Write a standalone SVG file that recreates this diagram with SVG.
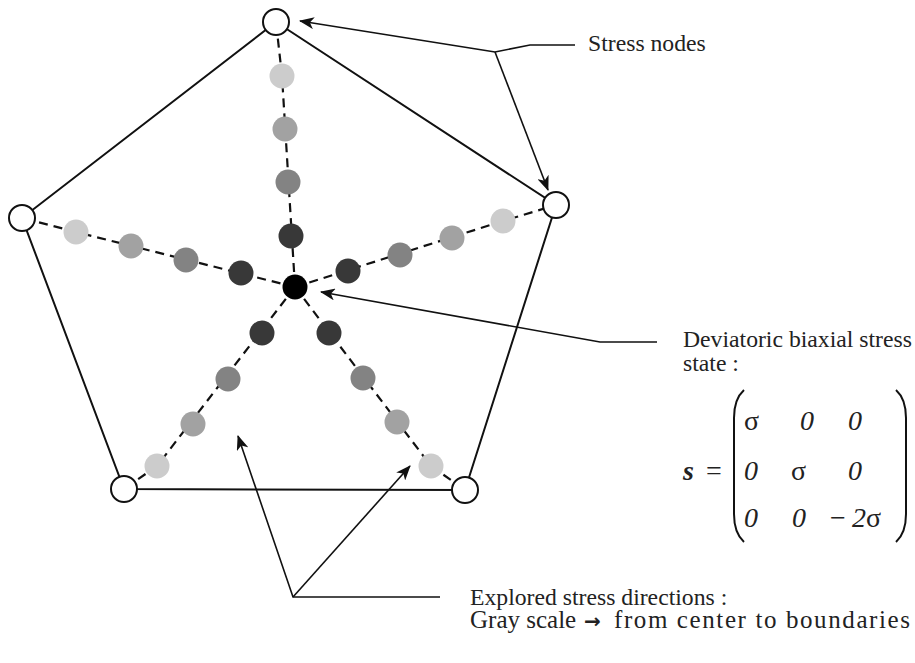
<svg xmlns="http://www.w3.org/2000/svg" width="915" height="663" viewBox="0 0 915 663">
<style>
.edge{stroke:#111;stroke-width:2;fill:none}
.arm{stroke:#111;stroke-width:2.2;stroke-dasharray:9 6;fill:none}
.node{fill:#fff;stroke:#111;stroke-width:2}
.lead{stroke:#111;stroke-width:1.6;fill:none}
.t{font-family:"Liberation Serif","Times New Roman",serif;font-size:23.7px;fill:#222}
.m{font-family:"Liberation Serif","Times New Roman",serif;font-size:28px;fill:#222}
.k1{fill:#383838}.k2{fill:#838383}.k3{fill:#a2a2a2}.k4{fill:#cccccc}
</style>
<defs>
<marker id="ah" markerUnits="userSpaceOnUse" markerWidth="16" markerHeight="12" refX="14" refY="6" orient="auto">
<path d="M0,0 L15,6 L0,12 L4,6 Z" fill="#111"/>
</marker>
</defs>
<rect width="915" height="663" fill="#fff"/>
<g id="pentagon">
<polygon class="edge" points="276,22 556,205 465,490 124,489 22,218"/>
</g>
<g id="arms">
<polyline class="arm" points="295,287 282,76 276,22"/>
<polyline class="arm" points="295,287 503,221 556,205"/>
<polyline class="arm" points="295,287 431,466 465,490"/>
<polyline class="arm" points="295,287 157,466 124,489"/>
<polyline class="arm" points="295,287 76,232 22,218"/>
</g>
<g id="dots">
<circle cx="295" cy="287" r="12.5" fill="#000"/>
<circle class="k1" cx="291" cy="236" r="12.5"/>
<circle class="k2" cx="288" cy="182" r="12.5"/>
<circle class="k3" cx="285" cy="129" r="12.5"/>
<circle class="k4" cx="282" cy="76" r="12.5"/>
<circle class="k1" cx="348" cy="271" r="12.5"/>
<circle class="k2" cx="400" cy="255" r="12.5"/>
<circle class="k3" cx="452" cy="238" r="12.5"/>
<circle class="k4" cx="503" cy="221" r="12.5"/>
<circle class="k1" cx="329" cy="333" r="12.5"/>
<circle class="k2" cx="363" cy="378" r="12.5"/>
<circle class="k3" cx="397" cy="422" r="12.5"/>
<circle class="k4" cx="431" cy="466" r="12.5"/>
<circle class="k1" cx="262" cy="333" r="12.5"/>
<circle class="k2" cx="228" cy="379" r="12.5"/>
<circle class="k3" cx="193" cy="424" r="12.5"/>
<circle class="k4" cx="157" cy="466" r="12.5"/>
<circle class="k1" cx="241" cy="273" r="12.5"/>
<circle class="k2" cx="186" cy="260" r="12.5"/>
<circle class="k3" cx="131" cy="246" r="12.5"/>
<circle class="k4" cx="76" cy="232" r="12.5"/>
</g>
<g id="node-top"><circle class="node" cx="276" cy="22" r="13"/></g>
<g id="node-right"><circle class="node" cx="556" cy="205" r="13"/></g>
<g id="node-bottom-right"><circle class="node" cx="465" cy="490" r="13"/></g>
<g id="node-bottom-left"><circle class="node" cx="124" cy="489" r="13"/></g>
<g id="node-left"><circle class="node" cx="22" cy="218" r="13"/></g>
<g id="connectors">
<polyline class="lead" points="575,45 530,45 495,52 300,21" marker-end="url(#ah)"/>
<line class="lead" x1="495" y1="52" x2="548" y2="190" marker-end="url(#ah)"/>
<polyline class="lead" points="657,342 600,342 321,292" marker-end="url(#ah)"/>
<polyline class="lead" points="440,597 293,597 238,436" marker-end="url(#ah)"/>
<line class="lead" x1="293" y1="597" x2="410" y2="466" marker-end="url(#ah)"/>
</g>
<g id="label-stress-nodes">
<text class="t" x="588" y="51">Stress nodes</text>
</g>
<g id="label-deviatoric">
<text class="t" x="683" y="347">Deviatoric biaxial stress</text>
<text class="t" x="683" y="371">state :</text>
<text class="m" x="683" y="480" font-weight="bold" font-style="italic">s</text>
<text class="m" x="706" y="480">=</text>
<path class="edge" stroke-width="1.8" d="M744,390 Q734,399 734,418 L734,514 Q734,533 744,542"/>
<path class="edge" stroke-width="1.8" d="M896,390 Q906,399 906,418 L906,514 Q906,533 896,542"/>
<text class="m" x="744" y="430">σ</text>
<text class="m" x="800" y="430" font-style="italic">0</text>
<text class="m" x="848" y="430" font-style="italic">0</text>
<text class="m" x="744" y="480" font-style="italic">0</text>
<text class="m" x="791" y="480">σ</text>
<text class="m" x="848" y="480" font-style="italic">0</text>
<text class="m" x="744" y="527" font-style="italic">0</text>
<text class="m" x="792" y="527" font-style="italic">0</text>
<text class="m" x="830" y="527">−</text>
<text class="m" x="852" y="527" font-style="italic">2</text>
<text class="m" x="866" y="527">σ</text>
</g>
<g id="label-explored">
<text class="t" x="470" y="605">Explored stress directions :</text>
<text class="t" y="628" style="font-size:25px"><tspan x="470">Gray scale</tspan><tspan x="584" style="font-family:'DejaVu Sans',sans-serif;font-size:20px;font-weight:bold">→</tspan><tspan x="614" textLength="296" lengthAdjust="spacing">from center to boundaries</tspan></text>
</g>
</svg>
